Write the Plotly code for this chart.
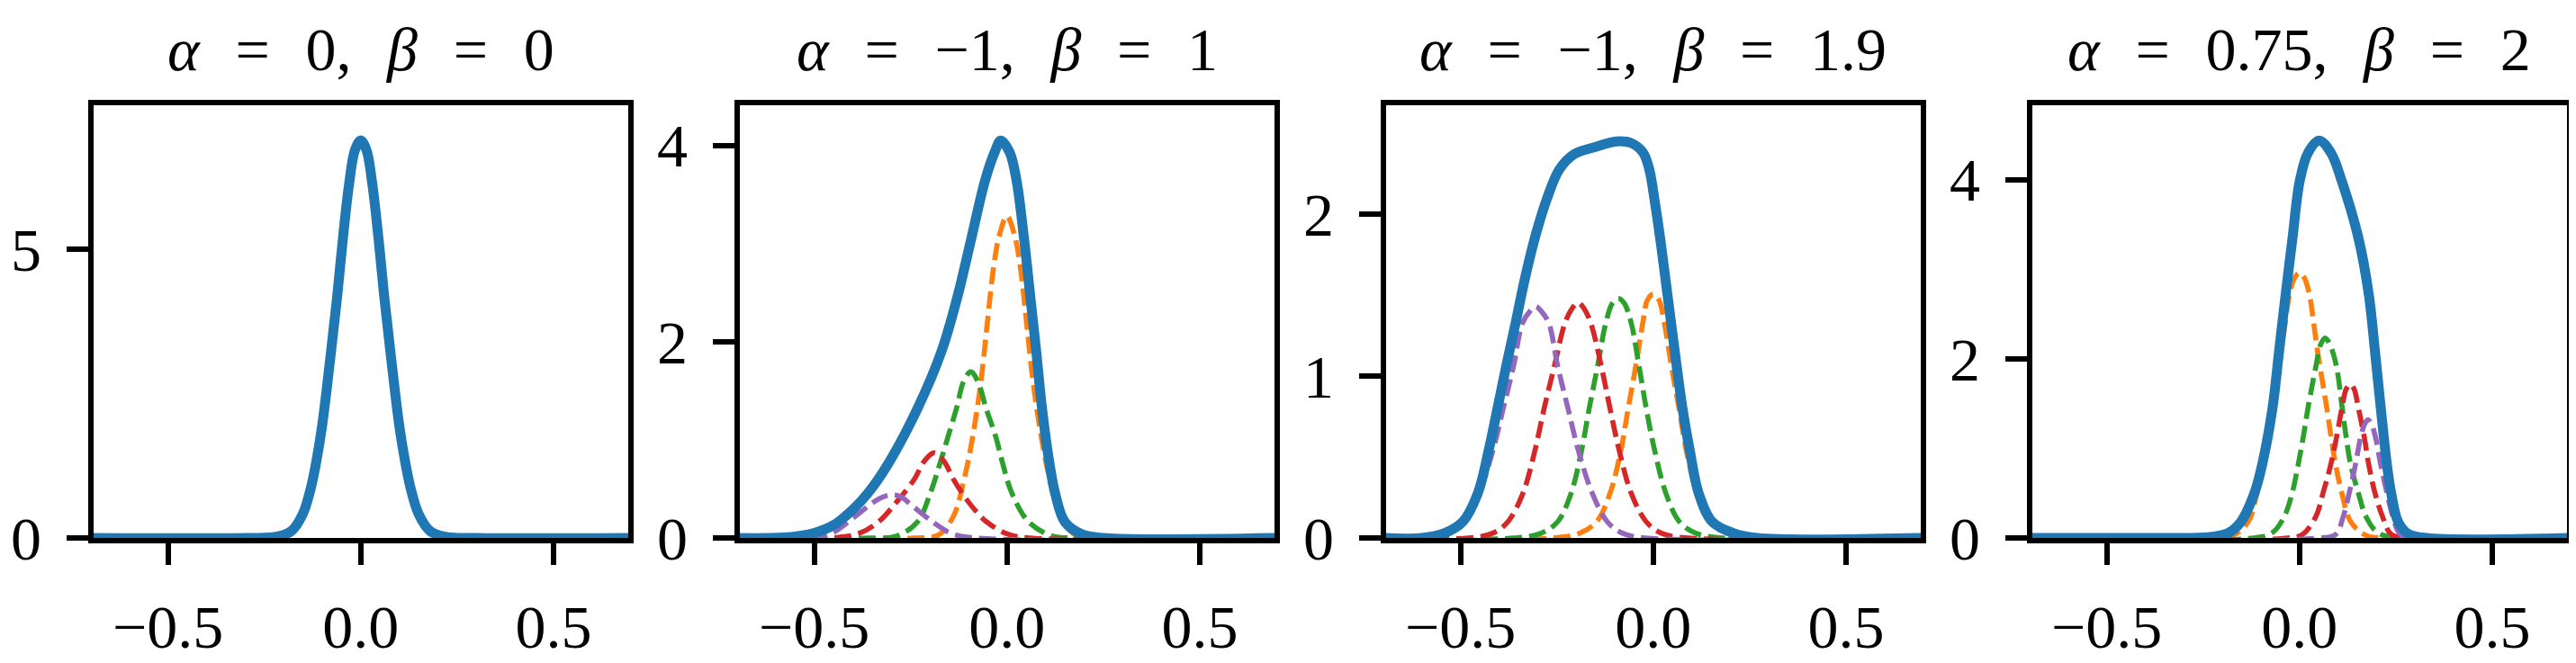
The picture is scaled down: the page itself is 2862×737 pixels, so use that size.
import plotly.graph_objects as go

# ---- values ---------------------------------------------------------------
SP = "\u2002\u200a"
titles = [f"<i>α</i>{SP}={SP}0,{SP}<i>β</i>{SP}={SP}0",
          f"<i>α</i>{SP}={SP}−1,{SP}<i>β</i>{SP}={SP}1",
          f"<i>α</i>{SP}={SP}−1,{SP}<i>β</i>{SP}={SP}1.9",
          f"<i>α</i>{SP}={SP}0.75,{SP}<i>β</i>{SP}={SP}2"]
x_ticks = [-0.5, 0.0, 0.5]
y_ticks = [[0, 5], [0, 2, 4], [0, 1, 2], [0, 2, 4]]
y_tops = [7.50, 4.41, 2.674, 4.83]

# panel 1 (alpha=0, beta=0): total density only
p1_total_x = [-0.70, -0.30, -0.22, -0.18, -0.15, -0.13, -0.117, -0.10, -0.077, -0.06, -0.046, -0.03,
              -0.015, 0.0, 0.015, 0.03, 0.046, 0.06, 0.077, 0.10, 0.117, 0.13, 0.15, 0.18, 0.22, 0.30, 0.70]
p1_total_y = [0, 0, 0.02, 0.12, 0.42, 0.85, 1.26, 1.95, 3.23, 4.25, 5.20, 6.14,
              6.72, 6.89, 6.72, 6.14, 5.20, 4.25, 3.23, 1.95, 1.26, 0.85, 0.42, 0.12, 0.02, 0, 0]

# panel 2 (alpha=-1, beta=1)
p2_total_x = [-0.70, -0.62, -0.56, -0.50, -0.45, -0.40, -0.361, -0.310, -0.232, -0.170, -0.127, -0.092,
              -0.057, -0.032, -0.016, 0.007, 0.025, 0.044, 0.060, 0.076, 0.091, 0.111, 0.125, 0.150,
              0.193, 0.25, 0.70]
p2_total_y = [0, 0, 0.01, 0.05, 0.13, 0.29, 0.455, 0.744, 1.32, 1.90, 2.48, 3.06,
              3.64, 3.93, 4.05, 3.93, 3.64, 3.06, 2.48, 1.90, 1.32, 0.744, 0.455, 0.165,
              0.04, 0, 0]
p2_orange_x = [-0.70, -0.24, -0.178, -0.139, -0.111, -0.089, -0.067, -0.051, -0.035, -0.02, 0.0,
               0.02, 0.035, 0.051, 0.067, 0.089, 0.111, 0.139, 0.178, 0.24, 0.70]
p2_orange_y = [0, 0, 0.03, 0.22, 0.60, 1.03, 1.61, 2.19, 2.75, 3.08, 3.28,
               3.08, 2.75, 2.19, 1.61, 1.03, 0.60, 0.22, 0.03, 0, 0]
p2_green_x = [-0.70, -0.36, -0.286, -0.232, -0.199, -0.175, -0.153, -0.131, -0.112, -0.094, -0.076,
              -0.054, -0.029, -0.010, 0.013, 0.056, 0.118, 0.18, 0.70]
p2_green_y = [0, 0, 0.02, 0.165, 0.455, 0.744, 1.03, 1.32, 1.60, 1.693, 1.60,
              1.32, 1.03, 0.744, 0.455, 0.165, 0.02, 0, 0]
p2_red_x = [-0.70, -0.46, -0.388, -0.333, -0.286, -0.240, -0.215, -0.189, -0.163, -0.139, -0.100,
            -0.053, 0.002, 0.06, 0.70]
p2_red_y = [0, 0, 0.04, 0.165, 0.368, 0.60, 0.78, 0.868, 0.78, 0.60, 0.368,
            0.165, 0.04, 0, 0]
p2_purple_x = [-0.70, -0.56, -0.46, -0.40, -0.345, -0.32, -0.298, -0.275, -0.249, -0.193, -0.146,
               -0.08, 0.70]
p2_purple_y = [0, 0, 0.04, 0.20, 0.368, 0.42, 0.44, 0.42, 0.339, 0.165, 0.05,
               0.0, 0]

# panel 3 (alpha=-1, beta=1.9)
p3_total_x = [-0.70, -0.60, -0.541, -0.494, -0.455, -0.427, -0.404, -0.381, -0.357, -0.334, -0.307,
              -0.275, -0.244, -0.205, -0.151, -0.096, -0.057, -0.026, -0.010, 0.005, 0.021, 0.037,
              0.056, 0.076, 0.095, 0.118, 0.153, 0.208, 0.27, 0.70]
p3_total_y = [0, 0, 0.03, 0.10, 0.276, 0.539, 0.80, 1.065, 1.328, 1.59, 1.854,
              2.10, 2.275, 2.371, 2.415, 2.45, 2.44, 2.38, 2.275, 2.064, 1.80, 1.503,
              1.152, 0.80, 0.539, 0.276, 0.10, 0.03, 0, 0]
p3_orange_x = [-0.70, -0.26, -0.19, -0.147, -0.112, -0.084, -0.065, -0.045, -0.027, -0.015, 0.0,
               0.015, 0.029, 0.047, 0.067, 0.086, 0.114, 0.149, 0.19, 0.26, 0.70]
p3_orange_y = [0, 0, 0.03, 0.10, 0.276, 0.539, 0.80, 1.065, 1.328, 1.47, 1.507,
               1.47, 1.328, 1.065, 0.80, 0.539, 0.276, 0.10, 0.03, 0, 0]
p3_green_x = [-0.70, -0.36, -0.29, -0.248, -0.213, -0.186, -0.166, -0.144, -0.123, -0.106, -0.0905,
              -0.075, -0.057, -0.037, -0.018, 0.004, 0.033, 0.068, 0.11, 0.18, 0.70]
p3_green_y = [0, 0, 0.03, 0.10, 0.276, 0.539, 0.80, 1.065, 1.328, 1.45, 1.48,
              1.45, 1.328, 1.065, 0.80, 0.539, 0.276, 0.10, 0.03, 0, 0]
p3_red_x = [-0.70, -0.48, -0.416, -0.377, -0.338, -0.307, -0.283, -0.256, -0.229, -0.21, -0.195,
            -0.18, -0.162, -0.135, -0.112, -0.088, -0.057, -0.018, 0.021, 0.09, 0.70]
p3_red_y = [0, 0, 0.03, 0.10, 0.276, 0.539, 0.80, 1.065, 1.328, 1.42, 1.454,
            1.42, 1.328, 1.065, 0.80, 0.539, 0.276, 0.10, 0.03, 0, 0]
p3_purple_x = [-0.70, -0.60, -0.53, -0.491, -0.452, -0.416, -0.389, -0.362, -0.339, -0.32, -0.305,
               -0.29, -0.271, -0.248, -0.221, -0.194, -0.158, -0.119, -0.080, -0.02, 0.70]
p3_purple_y = [0, 0, 0.03, 0.10, 0.276, 0.539, 0.80, 1.065, 1.328, 1.40, 1.43,
               1.40, 1.328, 1.065, 0.80, 0.539, 0.276, 0.10, 0.03, 0, 0]

# panel 4 (alpha=0.75, beta=2)
p4_total_x = [-0.70, -0.30, -0.25, -0.187, -0.152, -0.117, -0.097, -0.070, -0.053, -0.036, -0.018,
              0.0005, 0.022, 0.051, 0.082, 0.110, 0.153, 0.180, 0.196, 0.211, 0.227, 0.238,
              0.256, 0.281, 0.33, 0.70]
p4_total_y = [0, 0, 0.005, 0.05, 0.18, 0.50, 0.814, 1.447, 2.08, 2.713, 3.347,
              3.98, 4.296, 4.435, 4.296, 3.98, 3.347, 2.713, 2.08, 1.447, 0.814, 0.50,
              0.18, 0.05, 0, 0]
p4_orange_x = [-0.70, -0.24, -0.172, -0.133, -0.110, -0.094, -0.082, -0.071, -0.059, -0.047, -0.037,
               -0.026, -0.013, 0.0, 0.013, 0.026, 0.037, 0.047, 0.059, 0.071, 0.082, 0.094,
               0.110, 0.133, 0.172, 0.24, 0.70]
p4_orange_y = [0, 0, 0.03, 0.18, 0.50, 0.814, 1.13, 1.447, 1.764, 2.08, 2.397,
               2.713, 2.90, 2.96, 2.90, 2.713, 2.397, 2.08, 1.764, 1.447, 1.13, 0.814,
               0.50, 0.18, 0.03, 0, 0]
p4_green_x = [-0.70, -0.12, -0.070, -0.039, -0.019, -0.0035, 0.010, 0.022, 0.043, 0.055, 0.0667,
              0.079, 0.0956, 0.111, 0.121, 0.133, 0.153, 0.172, 0.203, 0.26, 0.70]
p4_green_y = [0, 0, 0.06, 0.244, 0.50, 0.814, 1.13, 1.447, 1.922, 2.16, 2.232,
              2.16, 1.922, 1.447, 1.13, 0.814, 0.50, 0.244, 0.06, 0, 0]
p4_red_x = [-0.70, -0.03, 0.008, 0.043, 0.061, 0.081, 0.0965, 0.110, 0.121, 0.1315, 0.142,
            0.153, 0.168, 0.180, 0.196, 0.215, 0.238, 0.28, 0.70]
p4_red_y = [0, 0, 0.04, 0.244, 0.50, 0.814, 1.13, 1.447, 1.66, 1.716, 1.66,
            1.447, 1.13, 0.814, 0.50, 0.244, 0.04, 0, 0]
p4_purple_x = [-0.70, 0.05, 0.094, 0.114, 0.129, 0.145, 0.159, 0.170, 0.178, 0.186, 0.197,
               0.211, 0.227, 0.242, 0.262, 0.31, 0.70]
p4_purple_y = [0, 0, 0.04, 0.244, 0.50, 0.814, 1.13, 1.28, 1.32, 1.28, 1.13,
               0.814, 0.50, 0.244, 0.04, 0, 0]

# ---- styling ---------------------------------------------------------------
W, H = 2862, 737
BLUE, ORANGE, GREEN, RED, PURPLE = "#1f77b4", "#ff7f0e", "#2ca02c", "#d62728", "#9467bd"
FONT = "Liberation Serif"
FS = 68

panels = [
    ((p1_total_x, p1_total_y), []),
    ((p2_total_x, p2_total_y), [(p2_orange_x, p2_orange_y, ORANGE), (p2_green_x, p2_green_y, GREEN),
                                (p2_red_x, p2_red_y, RED), (p2_purple_x, p2_purple_y, PURPLE)]),
    ((p3_total_x, p3_total_y), [(p3_orange_x, p3_orange_y, ORANGE), (p3_green_x, p3_green_y, GREEN),
                                (p3_red_x, p3_red_y, RED), (p3_purple_x, p3_purple_y, PURPLE)]),
    ((p4_total_x, p4_total_y), [(p4_orange_x, p4_orange_y, ORANGE), (p4_green_x, p4_green_y, GREEN),
                                (p4_red_x, p4_red_y, RED), (p4_purple_x, p4_purple_y, PURPLE)]),
]

# plot-area pixel boxes (inner edge of the frame)
left_px = [95.5, 813.5, 1531.5, 2249.5]
box_w = 594.5
top_px, bot_px = 115.0, 623.0

fig = go.Figure()
layout = {}
annotations = []
for i, ((bx, by), comps) in enumerate(panels):
    k = "" if i == 0 else str(i + 1)
    xref, yref = "x" + k, "y" + k
    for cx, cy, col in comps:
        fig.add_trace(go.Scatter(x=cx, y=cy, mode="lines", xaxis=xref, yaxis=yref,
                                 line=dict(color=col, width=5.6, dash="19px,8px", shape="spline"),
                                 showlegend=False, hoverinfo="skip"))
    fig.add_trace(go.Scatter(x=bx, y=by, mode="lines", xaxis=xref, yaxis=yref,
                             line=dict(color=BLUE, width=11, shape="spline"),
                             showlegend=False, hoverinfo="skip"))

    x0 = left_px[i] / W
    x1 = (left_px[i] + box_w) / W
    common = dict(showline=True, mirror=True, linecolor="black", linewidth=6,
                  ticks="outside", ticklen=24, tickwidth=6, tickcolor="black",
                  showgrid=False, zeroline=False, fixedrange=True,
                  tickfont=dict(family=FONT, size=FS, color="black"))
    layout["xaxis" + k] = dict(domain=[x0, x1], anchor=yref, range=[-0.694, 0.694],
                               tickvals=x_ticks, tickformat=".1f", ticklabelstandoff=10, **common)
    layout["yaxis" + k] = dict(domain=[1 - bot_px / H, 1 - top_px / H], anchor=xref,
                               range=[0, y_tops[i]], tickvals=y_ticks[i], tickformat="d",
                               ticklabelstandoff=14, **common)
    annotations.append(dict(text=titles[i], xref="paper", yref="paper",
                            x=(x0 + x1) / 2, y=1 - 50 / H, xanchor="center", yanchor="middle",
                            showarrow=False, font=dict(family=FONT, size=FS, color="black")))

fig.update_layout(**layout)
fig.update_layout(width=W, height=H, margin=dict(l=0, r=0, t=0, b=0),
                  paper_bgcolor="white", plot_bgcolor="white",
                  annotations=annotations, showlegend=False)

fig.write_html("out.html")
